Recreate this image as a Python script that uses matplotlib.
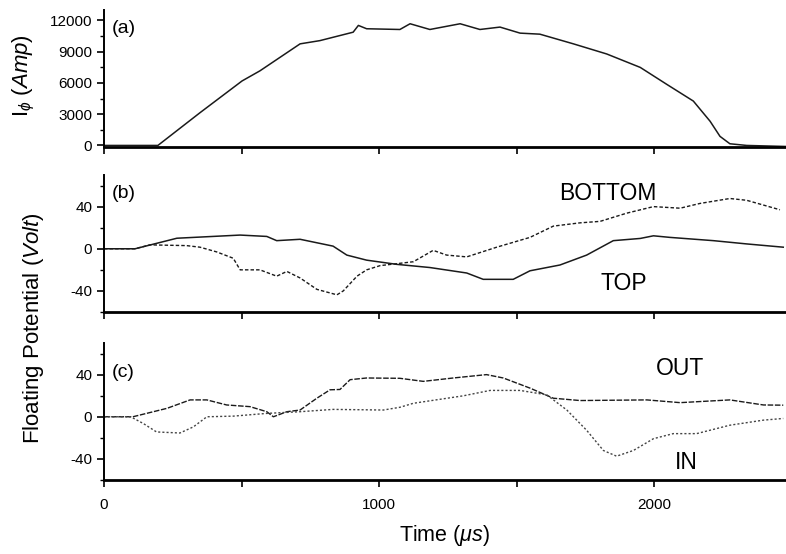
import matplotlib
matplotlib.use('Agg')
import matplotlib.pyplot as plt
from matplotlib.ticker import MultipleLocator

plt.rcParams['font.family'] = ['Liberation Sans', 'DejaVu Sans']
plt.rcParams['mathtext.fontset'] = 'custom'
plt.rcParams['mathtext.rm'] = 'Liberation Sans'
plt.rcParams['mathtext.it'] = 'Liberation Sans:italic'
plt.rcParams['axes.unicode_minus'] = False

# (a) plasma current
t_a = [0, 196, 349, 502, 567, 713, 785, 906, 925, 955, 1076, 1113, 1185, 1295, 1367,
       1440, 1513, 1585, 1707, 1828, 1950, 2046, 2143, 2204, 2240, 2276, 2337, 2480]
i_a = [0, 0, 3140, 6190, 7160, 9750, 10060, 10870, 11520, 11200, 11130, 11680, 11130,
       11680, 11130, 11360, 10780, 10680, 9750, 8780, 7490, 5870, 4260, 2320, 870, 160, 0, -100]

# (b) TOP / BOTTOM floating potential
t_top = [0, 113, 265, 495, 592, 628, 713, 833, 883, 955, 1065, 1185, 1319, 1379, 1488,
         1549, 1658, 1755, 1852, 1950, 1998, 2058, 2216, 2337, 2470]
v_top = [0, 0, 10, 13, 11.7, 7.7, 9, 2.5, -6, -10.8, -14.8, -17.8, -23, -29, -29,
         -20.9, -15.4, -6, 7.7, 9.8, 12.3, 10.8, 7.7, 4.6, 1.5]
t_bot = [0, 113, 167, 300, 349, 410, 470, 495, 567, 628, 665, 713, 774, 847, 870, 920,
         955, 1004, 1125, 1197, 1246, 1319, 1428, 1549, 1634, 1731, 1804, 1901, 1998,
         2095, 2167, 2276, 2337, 2458]
v_bot = [0, 0, 3.7, 3, 1.5, -3, -9, -20, -20, -26, -21.5, -27.7, -38.5, -43.7, -40, -26,
         -20, -16, -12.3, -1.5, -6, -7.7, 1.5, 10.8, 21.5, 24.6, 26, 33.8, 40,
         38.5, 43, 47.7, 46, 37]

# (c) OUT / IN floating potential
t_out = [0, 105, 229, 313, 374, 446, 531, 592, 616, 665, 713, 774, 822, 858, 895, 955,
         1076, 1161, 1270, 1391, 1452, 1549, 1634, 1731, 1974, 2095, 2276, 2398, 2470]
v_out = [0, 0, 8, 16, 16, 11.2, 9.6, 4.8, 0, 4.8, 6.4, 17.6, 25.6, 25.9, 35.2, 36.8,
         36.5, 33.6, 36.8, 40, 36.8, 27.2, 17.6, 15.4, 16, 13.4, 16, 11.2, 11]
t_in = [0, 97, 143, 191, 276, 325, 374, 470, 592, 713, 833, 1016, 1076, 1125, 1307,
        1404, 1513, 1610, 1683, 1755, 1816, 1864, 1925, 1998, 2070, 2155, 2276, 2398, 2470]
v_in = [0, 0, -6.4, -14.4, -15.4, -9.6, 0, 0.6, 3.2, 4.8, 7, 6.4, 9, 12.8, 19.9,
        25, 25, 20.8, 6.4, -12.8, -32, -37.4, -32, -20.8, -16, -16, -8, -3.2, -1.6]

W, H = 786, 554
fig = plt.figure(figsize=(W / 100, H / 100), dpi=100)

def box(top, bottom):
    return [104 / W, 1 - bottom / H, 1 - 104 / W, (bottom - top) / H]

ax_a = fig.add_axes(box(10, 147))
ax_b = fig.add_axes(box(175, 312))
ax_c = fig.add_axes(box(343, 480))

ink = '#1a1a1a'
ax_a.plot(t_a, i_a, color=ink, lw=1.1)
ax_b.plot(t_top, v_top, color=ink, lw=1.1)
ax_b.plot(t_bot, v_bot, color=ink, lw=1.0, ls=(0, (2.5, 1.5)))
ax_c.plot(t_out, v_out, color=ink, lw=1.0, ls=(0, (4, 1.2)))
ax_c.plot(t_in, v_in, color='#444444', lw=1.0, ls=(0, (1.5, 1.5)))

ax_a.set_ylim(-150, 13000)
ax_a.set_yticks([0, 3000, 6000, 9000, 12000])
ax_a.yaxis.set_minor_locator(MultipleLocator(1500))
for ax in (ax_b, ax_c):
    ax.set_ylim(-60, 70)
    ax.set_yticks([-40, 0, 40])
    ax.yaxis.set_minor_locator(MultipleLocator(20))

for ax in (ax_a, ax_b, ax_c):
    ax.set_xlim(0, 2480)
    ax.set_xticks([0, 500, 1000, 1500, 2000])
    ax.set_xticklabels([])
    ax.spines['top'].set_visible(False)
    ax.spines['right'].set_visible(False)
    ax.spines['left'].set_linewidth(1.4)
    ax.spines['bottom'].set_linewidth(2.0)
    ax.tick_params(which='major', length=5, width=1.2, labelsize=11, direction='out')
    ax.tick_params(which='minor', length=3, width=1.0)
    ax.patch.set_alpha(0)

ax_c.set_xticklabels(['0', '', '1000', '', '2000'])
ax_c.tick_params(axis='x', pad=8)
ax_c.set_xlabel(r'Time ($\mu s$)', fontsize=15.5, labelpad=8)

ax_a.text(0.012, 0.93, '(a)', transform=ax_a.transAxes, fontsize=14, va='top')
ax_b.text(0.012, 0.93, '(b)', transform=ax_b.transAxes, fontsize=14, va='top')
ax_c.text(0.012, 0.85, '(c)', transform=ax_c.transAxes, fontsize=14, va='top')

ax_b.text(1833, 52, 'BOTTOM', fontsize=16.5, ha='center', va='center')
ax_b.text(1891, -33, 'TOP', fontsize=16.5, ha='center', va='center')
ax_c.text(2095, 46, 'OUT', fontsize=16.5, ha='center', va='center')
ax_c.text(2118, -43, 'IN', fontsize=16.5, ha='center', va='center')

fig.text(24 / W, 1 - 76 / H, r'I$_{\phi}$ ($\mathit{Amp}$)', rotation=90,
         fontsize=16, ha='center', va='center')
fig.text(34 / W, 1 - 328 / H, r'Floating Potential ($\mathit{Volt}$)', rotation=90,
         fontsize=16, ha='center', va='center')

fig.savefig('out.png', dpi=100)
